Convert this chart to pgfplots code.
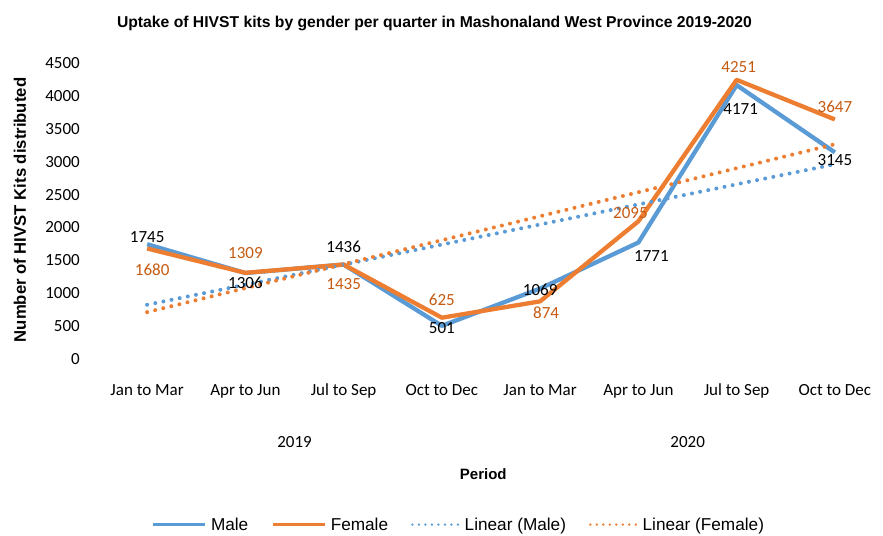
\documentclass[border=0pt]{standalone}
\usepackage{pgfplots}
\pgfplotsset{compat=1.18}
\usepackage{pgfplotstable}
\usepackage{fontspec}
\setmainfont{Carlito}
\newfontfamily\arialb{Liberation Sans}
\definecolor{mblue}{HTML}{5B9BD5}
\definecolor{forange}{HTML}{ED7D31}
\definecolor{flab}{HTML}{C55A11}
\pgfplotsset{
  solidleg/.style={legend image code/.code={\draw[##1, line width=3.5bp] (0bp,0bp) -- (52bp,0bp);}},
  dotleg/.style={legend image code/.code={\draw[##1, line width=2.6bp, dash pattern=on 0bp off 6.5bp] (1bp,0bp) -- (48bp,0bp);}},
}

\pgfplotstableread{
x y dx dy
0 1745 0 7
1 1306 0 -10
2 1436 0 18
3 501 0 -2
4 1069 0 -1
5 1771 13 -13.5
6 4171 4 -24
7 3145 0 -8
}\male
\pgfplotstableread{
x y dx dy
0 1680 5 -21.5
1 1309 0 19.5
2 1435 0 -19.7
3 625 0 17.7
4 874 6 -11.3
5 2095 -8 8
6 4251 2 13
7 3647 0 12.8
}\female
\pgfplotstableread{
x y
0 822
7 2964
}\maletrend
\pgfplotstableread{
x y
0 710
7 3269
}\femaletrend

\begin{document}
\begin{tikzpicture}
\path[use as bounding box] (0,0) rectangle (883bp,536bp);
\begin{axis}[
  at={(98bp,177.3bp)}, anchor=south west,
  scale only axis, width=786bp, height=295.2bp,
  xmin=-0.5, xmax=7.5, ymin=0, ymax=4500,
  clip=false,
  axis line style={draw=none},
  major tick length=0pt,
  xtick={0,...,7},
  xticklabels={Jan to Mar,Apr to Jun,Jul to Sep,Oct to Dec,Jan to Mar,Apr to Jun,Jul to Sep,Oct to Dec},
  ytick={0,500,...,4500},
  /pgf/number format/assume math mode=true,
  /pgf/number format/1000 sep={},
  tick label style={font=\fontsize{17bp}{20bp}\selectfont, inner sep=0pt},
  xticklabel style={anchor=base, yshift=-37bp},
  yticklabel style={anchor=east, xshift=-18bp},
  legend style={draw=none, at={(0.459,-0.562)}, anchor=center,
    font=\arialb\fontsize{17.2bp}{20bp}\selectfont,
    /tikz/every odd column/.append style={column sep=2bp},
    /tikz/every even column/.append style={column sep=21bp}},
  legend columns=4,
]
\addplot[mblue, line width=4.3bp, line join=round, solidleg,
  visualization depends on={\thisrow{dx} \as \dx},
  visualization depends on={\thisrow{dy} \as \dy},
  nodes near coords, nodes near coords style={anchor=center, xshift=\dx bp, yshift=\dy bp, text=black, font=\fontsize{17bp}{20bp}\selectfont}]
  table[x=x,y=y] {\male};
\addlegendentry{Male}
\addplot[forange, line width=4.3bp, line join=round, solidleg,
  visualization depends on={\thisrow{dx} \as \dx},
  visualization depends on={\thisrow{dy} \as \dy},
  nodes near coords, nodes near coords style={anchor=center, xshift=\dx bp, yshift=\dy bp, text=flab, font=\fontsize{17bp}{20bp}\selectfont}]
  table[x=x,y=y] {\female};
\addlegendentry{Female}
\addplot[mblue, line width=4bp, line cap=round, dash pattern=on 0bp off 8.3bp, dotleg]
  table[x=x,y=y] {\maletrend};
\addlegendentry{Linear (Male)}
\addplot[forange, line width=4bp, line cap=round, dash pattern=on 0bp off 8.3bp, dotleg]
  table[x=x,y=y] {\femaletrend};
\addlegendentry{Linear (Female)}
\end{axis}
\node[anchor=base, font=\arialb\bfseries\fontsize{15.7bp}{18bp}\selectfont] at (434.5bp,508bp) {Uptake of HIVST kits by gender per quarter in Mashonaland West Province 2019-2020};
\node[rotate=90, font=\arialb\bfseries\fontsize{16.7bp}{19bp}\selectfont] at (20bp,326bp) {Number of HIVST Kits distributed};
\node[anchor=base, font=\fontsize{17bp}{20bp}\selectfont] at (294.5bp,88.5bp) {2019};
\node[anchor=base, font=\fontsize{17bp}{20bp}\selectfont] at (687.7bp,88.5bp) {2020};
\node[anchor=base, font=\arialb\bfseries\fontsize{15bp}{18bp}\selectfont] at (483.3bp,56.5bp) {Period};
\end{tikzpicture}
\end{document}
